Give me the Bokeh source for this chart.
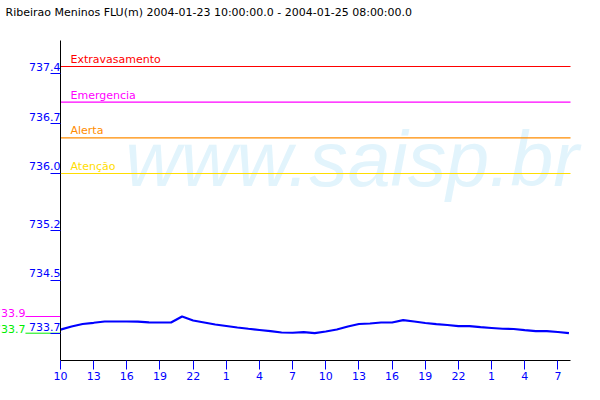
import math
from bokeh.plotting import figure
from bokeh.models import Range1d, FixedTicker
from bokeh.core.properties import value
from bokeh.embed import file_html
from bokeh.resources import INLINE

# ---------------- data ----------------
title_text = "Ribeirao Meninos FLU(m) 2004-01-23 10:00:00.0 - 2004-01-25 08:00:00.0"

# hours since 2004-01-23 10:00
hours = list(range(0, 47))
levels = [733.810, 733.854, 733.889, 733.906, 733.924, 733.924, 733.924, 733.922,
          733.912, 733.910, 733.910, 733.994, 733.938, 733.910, 733.882, 733.861,
          733.840, 733.822, 733.805, 733.788, 733.770, 733.766, 733.774, 733.760,
          733.784, 733.812, 733.854, 733.889, 733.896, 733.910, 733.910, 733.943,
          733.924, 733.903, 733.886, 733.875, 733.858, 733.858, 733.844, 733.833,
          733.822, 733.819, 733.802, 733.788, 733.788, 733.777, 733.760]

threshold_names = ["Extravasamento", "Emergencia", "Alerta", "Atenção"]
threshold_values = [737.5, 737.0, 736.5, 736.0]
threshold_colors = ["#ff0000", "#ff00ff", "#ff8c00", "#ffdd00"]

x_ticks = [0, 3, 6, 9, 12, 15, 18, 21, 24, 27, 30, 33, 36, 39, 42, 45]
x_tick_labels = ["10", "13", "16", "19", "22", "1", "4", "7",
                 "10", "13", "16", "19", "22", "1", "4", "7"]
y_ticks = [733.755, 734.5, 735.2, 736.0, 736.7, 737.4]

axis_x = (0, 46.14)            # 2004-01-23 10:00 .. 2004-01-25 08:00
axis_y = (733.377, 737.865)    # extent of the value axis
x_view = (-5.428, 48.13)       # visible area incl. left margin
y_view = (733.377, 738.426)    # visible area incl. title band

FONT = "DejaVu Sans"


def trunc1(v):
    return "%.1f" % (math.floor(v * 10 + 1e-6) / 10)


p = figure(width=592, height=392, output_backend="svg", toolbar_location=None,
           x_range=Range1d(*x_view), y_range=Range1d(*y_view),
           min_border_left=0, min_border_right=0, min_border_top=0,
           min_border_bottom=32)
p.outline_line_color = None
p.grid.visible = False
p.background_fill_color = "white"
p.border_fill_color = "white"

# watermark
p.text(x=[5.86], y=[736.21], text=["www.saisp.br"],
       text_font=value("Liberation Sans"), text_font_size="77px",
       text_font_style="italic", text_color="#e2f4fc", text_baseline="middle")

# title
p.text(x=[x_view[0]], y=[y_view[1]], text=[title_text], x_offset=5, y_offset=12,
       text_font=value(FONT), text_font_size="11px", text_color="black",
       text_baseline="middle")

# thresholds
n = len(threshold_values)
p.segment(x0=[axis_x[0]] * n, y0=threshold_values, x1=[axis_x[1]] * n,
          y1=threshold_values, line_color=threshold_colors, line_width=1.2)
p.text(x=[axis_x[0]] * n, y=threshold_values, text=threshold_names,
       x_offset=10, y_offset=-7, text_font=value(FONT), text_font_size="11px",
       text_color=threshold_colors, text_baseline="middle")

# series
p.line(hours, levels, line_color="#0000ff", line_width=2.2)

# min / max markers on the left
vmax = max(levels)
vmin = min(levels)
mark_vals = [vmax, vmin]
mark_cols = ["#ff00ff", "#00ee00"]
p.segment(x0=[-3.17] * 2, y0=mark_vals, x1=[axis_x[0]] * 2, y1=mark_vals,
          line_color=mark_cols, line_width=1)
p.text(x=[-3.17] * 2, y=mark_vals, text=[trunc1(v) for v in mark_vals],
       text_font=value(FONT), text_font_size="11px", text_color=mark_cols,
       text_align="right", text_baseline="middle", y_offset=-4)

# axes
xa = p.xaxis[0]
xa.ticker = FixedTicker(ticks=x_ticks)
xa.major_label_overrides = {t: l for t, l in zip(x_ticks, x_tick_labels)}
xa.bounds = axis_x
xa.axis_line_color = "black"
xa.major_tick_line_color = "#0000ff"
xa.major_tick_in = 0
xa.major_tick_out = 9
xa.minor_tick_line_color = None
xa.major_label_text_color = "#0000ff"
xa.major_label_text_font = FONT
xa.major_label_text_font_size = "11px"
xa.major_label_standoff = 2

ya = p.yaxis[0]
ya.fixed_location = axis_x[0]
ya.bounds = axis_y
ya.ticker = FixedTicker(ticks=y_ticks)
ya.major_label_overrides = {t: trunc1(t) + "\n " for t in y_ticks}
ya.axis_line_color = "black"
ya.major_tick_line_color = "#0000ff"
ya.major_tick_in = 0
ya.major_tick_out = 10
ya.minor_tick_line_color = None
ya.major_label_text_color = "#0000ff"
ya.major_label_text_font = FONT
ya.major_label_text_font_size = "11px"
ya.major_label_text_line_height = 1.0
ya.major_label_standoff = -10

open("out.html", "w").write(file_html(p, INLINE))
